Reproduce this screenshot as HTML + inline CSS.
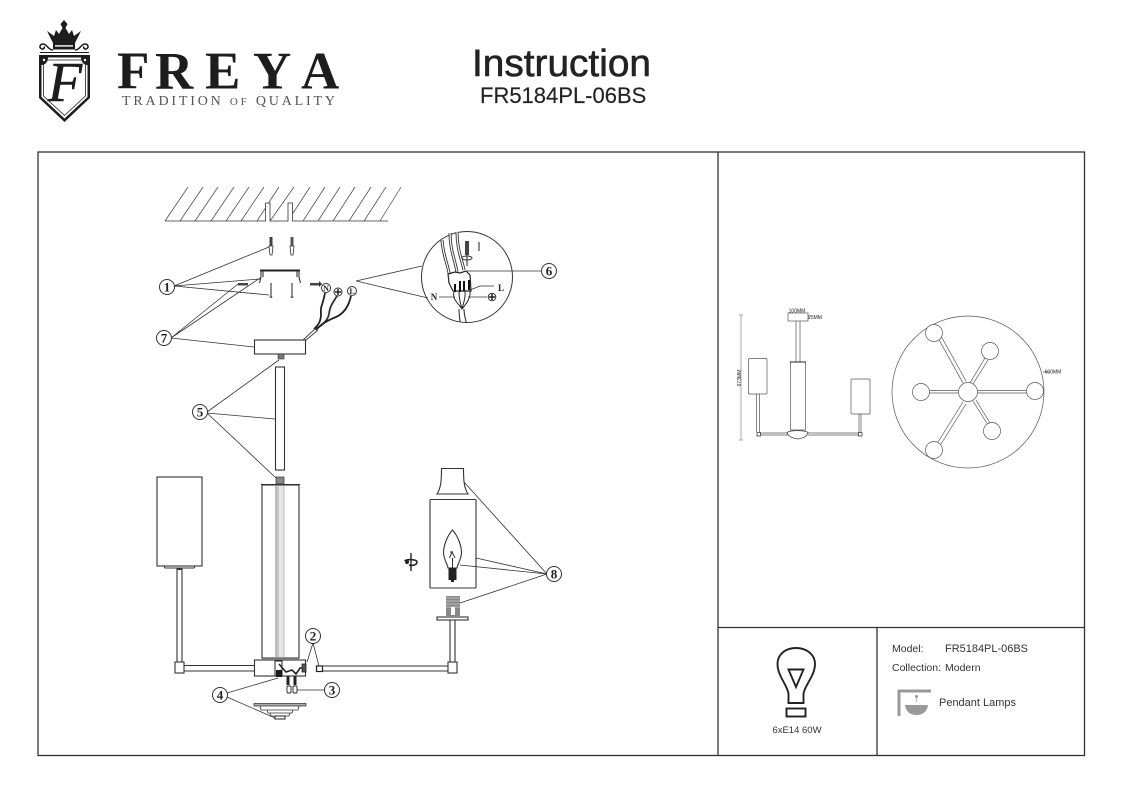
<!DOCTYPE html>
<html><head><meta charset="utf-8"><style>
html,body{margin:0;padding:0;background:#fff;width:1123px;height:794px;overflow:hidden}
svg{display:block}
text{font-family:"Liberation Sans",sans-serif;fill:#222}
.s{font-family:"Liberation Serif",serif;font-weight:bold;fill:#222}
.l{fill:none;stroke:#333;stroke-width:.8}
.m{fill:none;stroke:#333;stroke-width:1.1}
.w{fill:#fff;stroke:#333;stroke-width:1.1}
.c{fill:#fff;stroke:#333;stroke-width:1}
.t{fill:none;stroke:#666;stroke-width:.6}
.n{font-family:"Liberation Serif",serif;font-weight:bold;font-size:13px;text-anchor:middle;fill:#222}
</style></head><body>
<svg width="1123" height="794" viewBox="0 0 1123 794" xmlns="http://www.w3.org/2000/svg">
<rect width="1123" height="794" fill="#fff"/>
<!-- LOGO -->
<g>
<path d="M39 55H90V98L64.500 122L39 98Z" fill="#1d1d1d"/>
<path d="M41.500 57.500H87.500V97L64.500 118.500L41.500 97Z" fill="#fff"/>
<path d="M43.500 60H85.500V96L64.500 115.500L43.500 96Z" fill="none" stroke="#1d1d1d" stroke-width=".8"/>
<path d="M41.500 57.500H48C48 62 45 65 41.500 65ZM87.500 57.500H81C81 62 84 65 87.500 65Z" fill="#1d1d1d"/>
<circle cx="44" cy="60" r="1.200" fill="#fff"/><circle cx="85" cy="60" r="1.200" fill="#fff"/>
<text x="65" y="101" text-anchor="middle" style="font-family:'Liberation Serif',serif;font-style:italic;font-size:56px;fill:#1d1d1d;stroke:#1d1d1d;stroke-width:.6">F</text>
<path d="M64 20L67.500 24L65.500 28L69 34L72 30L74 36L81 31L75 43H53L47 31L54 36L56 30L59 34L62.500 28L60.500 24Z" fill="#1d1d1d"/>
<rect x="53" y="43" width="22" height="6.500" fill="#1d1d1d"/>
<rect x="55" y="45.200" width="18" height="1.400" fill="#fff"/>
<path d="M53 50C48 50 47 44 43 44C40 44 39 47 41 48.500C43 50 45 48 44 46.500M75 50C80 50 81 44 85 44C88 44 89 47 87 48.500C85 50 83 48 84 46.500" fill="none" stroke="#1d1d1d" stroke-width="1.500"/>
<path d="M40 52.500H89" stroke="#1d1d1d" stroke-width="1"/>
<text class="s" y="88.500" style="font-size:53px;fill:#1d1d1d"><tspan x="117">F</tspan><tspan x="155">R</tspan><tspan x="205">E</tspan><tspan x="253">Y</tspan><tspan x="301">A</tspan></text>
<text x="122" y="105" textLength="213" lengthAdjust="spacing" style="font-family:'Liberation Serif',serif;font-size:14px;fill:#555">TRADITION <tspan style="font-size:11px">OF</tspan> QUALITY</text>
</g>
<!-- TITLE -->
<text x="472" y="76" textLength="179" lengthAdjust="spacingAndGlyphs" style="font-size:38px;fill:#222;stroke:#222;stroke-width:.6">Instruction</text>
<text x="480" y="103" style="font-size:22px;fill:#222;stroke:#222;stroke-width:.15">FR5184PL-06BS</text>
<!-- FRAME -->
<g fill="none" stroke="#333" stroke-width="1.300">
<rect x="38" y="152" width="1046.500" height="603.500"/>
<path d="M718 152V755.500M718 627.500H1084.500M877 627.500V755.500"/>
</g>
<!-- CEILING -->
<path class="l" d="M165 221H265.500V203H270V221H288V203H292.500V221H388"/>
<path class="t" style="stroke:#444;stroke-width:.7" d="M165 221L188 187M180 221L203 187M195 221L218 187M211 221L234 187M226 221L249 187M241 221L264 187M257 221L265.500 208M268.500 203L279 187M270 221L294 187M292.500 214L310 187M303 221L325 187M318 221L340 187M333 221L355 187M349 221L371 187M364 221L386 187M380 221L401 187"/>
<!-- ANCHORS -->
<g>
<rect x="269.500" y="237" width="3" height="9" fill="#444"/><path class="l" d="M269 246H273L272 255H270Z"/>
<rect x="290.500" y="237" width="3" height="9" fill="#555"/><path class="l" d="M290 246H294L293 255H291Z"/>
<path class="m" d="M271 283V298M292 283V298"/><path class="l" d="M269.500 297H272.500M290.500 297H293.500"/>
<path d="M260 269.500H300V271.500H260Z" fill="#222"/>
<path class="m" d="M261 271V277L259.500 283M299 271V277L300.500 283M263 271V277M297 271V277"/>
<rect x="238" y="283" width="10" height="2.500" fill="#444"/>
<rect x="310" y="283" width="9" height="2.500" fill="#444"/><path d="M319 281L322 284L319 287Z" fill="#333"/>
</g>
<!-- CIRCLES N G L -->
<circle class="c" cx="326" cy="288" r="4.500"/><text x="326" y="291" class="n" style="font-size:8px">N</text>
<circle class="c" cx="338" cy="292" r="4"/><path d="M335 292H341M338 289V295" stroke="#222" stroke-width="1.500"/>
<circle class="c" cx="352" cy="291" r="4.500"/><text x="352" y="294" class="n" style="font-size:8px">L</text>
<!-- WIRES -->
<path d="M325 293C323 305 320 306 321 314C321 322 318 325 314 329" fill="none" stroke="#222" stroke-width="1.800"/>
<path d="M337 296C332 304 330 306 329 314C328 320 322 326 315 329" fill="none" stroke="#333" stroke-width="1.800"/>
<path d="M351 296C349 305 345 313 336 317C326 321 320 325 316 330" fill="none" stroke="#222" stroke-width="1.800"/>
<path d="M316 328L302 341M318 330L305 341" stroke="#444" stroke-width="1"/>
<!-- CANOPY -->
<rect class="w" x="254.500" y="340" width="51" height="14"/>
<rect x="278" y="354" width="6" height="5" fill="#777" stroke="#333" stroke-width=".6"/>
<!-- MAGNIFIER -->
<circle class="c" cx="467" cy="277" r="45.500"/>
<path class="l" d="M356 281L422 266M356 281L428 298"/>
<g fill="none"><path d="M442 240C443 255 447 262 449 273M450 233C450 250 455 260 457 272M457 232C457 250 462 260 464 270" stroke="#333" stroke-width="3"/>
<path d="M442 240C443 255 447 262 449 273M450 233C450 250 455 260 457 272M457 232C457 250 462 260 464 270" stroke="#fff" stroke-width="1.200"/></g>
<rect x="465" y="241" width="4" height="14" fill="#444"/>
<ellipse cx="467" cy="258" rx="5" ry="2" fill="none" stroke="#333"/><path class="m" d="M467 255V266M479 242V251"/>
<path d="M448 274L455 272L460 273L466 271L470 275L471 291H453L449 283Z" fill="#fff" stroke="#222" stroke-width="1.200"/>
<path d="M455 284V292M460 281V292M464 281V291M469 280V290" stroke="#111" stroke-width="2"/>
<path d="M454 292C452 299 458 303 462 309C466 304 471 298 470 291M459 292C459 300 461 305 462 309M465 291C466 298 463 304 462 309" fill="none" stroke="#222" stroke-width="1"/>
<path class="m" d="M459 309C459 315 460 320 460 322M464 309C464 315 466 320 466 322"/>
<path class="l" d="M466 271H475"/>
<path class="l" d="M475 271H541M470 290L480 286H494M439 297H455M468 297H487"/>
<text x="501" y="291" class="n" style="font-size:9px">L</text>
<text x="434" y="300" class="n" style="font-size:9px">N</text>
<circle class="c" cx="492" cy="297" r="3.800"/><path d="M489 297H495M492 294V300" stroke="#222" stroke-width="1.500"/>
<!-- ROD -->
<rect class="w" x="275.500" y="367" width="9" height="103"/>
<!-- CYLINDER -->
<rect x="276" y="477" width="8" height="7" fill="#888" stroke="#333" stroke-width=".7"/>
<rect class="w" x="262" y="485" width="37" height="173"/>
<path class="m" d="M261 484.500H300"/>
<rect x="276" y="486" width="8" height="171" fill="#e6e6e6"/>
<path d="M276 486V657" stroke="#aaa" stroke-width="1.500"/><path d="M284 486V657" stroke="#bbb" stroke-width="1"/>
<path d="M278 486V657" stroke="#999" stroke-width=".8"/>
<!-- LEFT SHADE -->
<rect class="w" x="157" y="477" width="45" height="89"/>
<path class="m" d="M164 566.500L165 568H194L195 566.500"/>
<path class="m" d="M177 568V662M182 568V662"/>
<rect x="177" y="568" width="5" height="2" fill="#333"/>
<rect class="w" x="175" y="662" width="9" height="11"/>
<path class="m" d="M184 665.500H254M184 671H254"/>
<!-- HUB -->
<rect class="w" x="254.500" y="660" width="51" height="16"/>
<rect x="262" y="658" width="37" height="2" fill="#777"/>
<rect x="275" y="661" width="7" height="15" fill="#fff" stroke="#222" stroke-width="1"/>
<rect x="276" y="670" width="6" height="7" fill="#1c1c1c"/>
<path d="M279 664L286 672L292 670L296 674L300 668H304V664" fill="none" stroke="#222" stroke-width="1.600"/>
<rect x="302" y="664" width="4" height="8" fill="#555" stroke="#222" stroke-width=".8"/>
<path d="M288 676V685M295 676V685" stroke="#222" stroke-width="3"/>
<rect x="287" y="686" width="4" height="7" rx="1" fill="#fff" stroke="#222" stroke-width=".9"/>
<rect x="293" y="686" width="4" height="7" rx="1" fill="#fff" stroke="#222" stroke-width=".9"/>
<!-- BOTTOM CAP -->
<path d="M254 703.500H306V706H254Z" fill="#aaa" stroke="#333" stroke-width=".7"/>
<path class="l" d="M260 706L261 710H298L299 706M267 710L268 713H292L293 710M270 713L271 716H289L290 713"/>
<rect class="w" x="275" y="716" width="10" height="3"/>
<!-- RIGHT ARM -->
<rect x="316.500" y="666" width="6" height="5.500" fill="#fff" stroke="#222" stroke-width="1.200"/>
<path class="m" d="M323 666H448M323 671H448"/>
<rect class="w" x="448" y="662" width="9" height="11"/>
<path class="m" d="M450 620V662M455 620V662"/>
<rect class="w" x="437" y="617" width="31" height="3"/>
<rect x="446" y="596" width="14" height="21" fill="#888"/>
<path d="M446 598H460M446 601H460M446 604H460M446 607H460" stroke="#ccc" stroke-width=".8"/>
<rect x="451" y="607" width="4" height="8" fill="#fff"/>
<!-- RIGHT SHADE -->
<rect class="w" x="430" y="499.500" width="46" height="88.500" rx="1"/>
<path class="w" d="M441.500 468.500H463.500C463.500 480 464 488 468 494H437C441 488 441.500 480 441.500 468.500Z"/>
<path class="m" d="M452.500 530C447 536 443.500 546 443.500 553C444 560 447 563 448 568H457C458 563 461 560 461.500 553C461.500 546 458 536 452.500 530Z"/>
<path d="M450 552L453 552M449.500 558L452 552L455 558M452.500 558V568" fill="none" stroke="#333" stroke-width="1"/>
<rect x="448.500" y="568" width="8" height="12" fill="#222"/>
<path d="M451 580H454V582H451Z" fill="#222"/>
<!-- ROTATE ICON -->
<path d="M411 553V571" stroke="#333" stroke-width="1.500"/>
<path d="M405 561C405 559 417 559 417 562C417 565 412 566 409 565" fill="none" stroke="#222" stroke-width="1.600"/>
<circle cx="407" cy="562" r="2" fill="#222"/>
<!-- LEADERS -->
<path class="l" d="M174 286L269 247M174 286L260 279M174 286L269 295M171 338L238 284M171 338L260 278M171 338L254 347"/>
<path class="l" d="M207 412L279 360M207 413L275 419M207 413L276 478"/>
<path class="l" d="M313 643L307 662M313 643L319 666M297 690H325M227 693L278 678M227 697L275 718"/>
<path class="l" d="M547 574L464 482M547 574L476 558M547 574L460 565M547 574L460 603"/>
<!-- NUMBERS -->
<g>
<circle class="c" cx="167" cy="287" r="7.500"/><text x="167" y="291.500" class="n">1</text>
<circle class="c" cx="164" cy="338" r="7.500"/><text x="164" y="342.500" class="n">7</text>
<circle class="c" cx="200" cy="412" r="7.500"/><text x="200" y="416.500" class="n">5</text>
<circle class="c" cx="549" cy="271" r="7.500"/><text x="549" y="275.500" class="n">6</text>
<circle class="c" cx="313" cy="636" r="7.500"/><text x="313" y="640.500" class="n">2</text>
<circle class="c" cx="332" cy="690" r="7.500"/><text x="332" y="694.500" class="n">3</text>
<circle class="c" cx="220" cy="695" r="7.500"/><text x="220" y="699.500" class="n">4</text>
<circle class="c" cx="554" cy="574" r="7.500"/><text x="554" y="578.500" class="n">8</text>
</g>
<!-- ELEVATION -->
<g fill="none" stroke="#555" stroke-width=".7">
<rect x="788" y="313" width="20" height="8"/>
<path d="M796 321V362M800 321V362"/>
<rect x="790.500" y="362" width="15" height="68"/>
<path d="M790 362H806" stroke="#222" stroke-width="1"/>
<rect x="748.500" y="358.500" width="18.500" height="35.500" rx="1"/>
<path d="M756.500 394V432M759.500 394V432"/>
<rect x="757" y="432.500" width="3.500" height="3.500" stroke="#222"/>
<path d="M760 433H788M760 435H788M808 433H858M808 435H858"/>
<path d="M787 432.500C790 430 805 430 808 432.500C807 437 803 438 798 439C792 438 789 437 787 432.500Z" stroke="#333"/>
<rect x="858.500" y="432.500" width="3.500" height="3.500" stroke="#222"/>
<path d="M859 414V432M861 414V432"/>
<rect x="851" y="379" width="19" height="35" rx="1"/>
<path d="M741 315V440M739 315H743M739 440H743" stroke="#888"/>
<path d="M808 317H810M1043 372H1050" stroke="#666"/>
</g>
<text x="797" y="312.500" text-anchor="middle" style="font-size:5px">100MM</text>
<text x="815" y="319" text-anchor="middle" style="font-size:5px">25MM</text>
<text transform="translate(741,378) rotate(-90)" text-anchor="middle" style="font-size:5px">673MM</text>
<text x="1053" y="373.500" text-anchor="middle" style="font-size:5px">600MM</text>
<!-- PLAN -->
<g fill="none" stroke="#555" stroke-width=".7">
<circle cx="968" cy="392" r="76"/>
<path d="M938 338L963 383M941 336L966 381M985 358L970 383M988 360L973 384M929 390.500H958M929 393H958M978 390.500H1027M978 393H1027M988 425L973 401M990 423L976 400M938 442L963 402M941 444L966 404"/>
<g fill="#fff"><circle cx="968" cy="392" r="9.500"/><circle cx="934" cy="333" r="8.500"/><circle cx="990" cy="351" r="8.500"/><circle cx="921" cy="392" r="8.500"/><circle cx="1035" cy="391" r="8.500"/><circle cx="992" cy="431" r="8.500"/><circle cx="934" cy="450" r="8.500"/></g>
</g>
<!-- BULB -->
<path d="M788.500 703V694C788 686 777.500 676 777.500 664C777.500 654 786 648 796 648C806 648 815 654 815 664C815 676 804 686 803.500 694V703Z" fill="none" stroke="#222" stroke-width="1.900"/>
<path d="M788.500 669.500H803.500L796 687Z" fill="none" stroke="#222" stroke-width="1.900"/>
<rect x="786.500" y="708.500" width="19" height="8" fill="none" stroke="#222" stroke-width="1.900"/>
<text x="797" y="733" text-anchor="middle" style="font-size:9.500px;fill:#333">6xE14 60W</text>
<!-- INFO -->
<text x="892" y="652" style="font-size:10.500px;fill:#333">Model:</text>
<text x="945" y="652" textLength="83" lengthAdjust="spacingAndGlyphs" style="font-size:11px;fill:#333">FR5184PL-06BS</text>
<text x="892" y="671" style="font-size:10.500px;fill:#333">Collection:</text>
<text x="945" y="671" style="font-size:10.500px;fill:#333">Modern</text>
<text x="939" y="706" textLength="77" lengthAdjust="spacingAndGlyphs" style="font-size:11px;fill:#333">Pendant Lamps</text>
<path d="M899 716V691H931" fill="none" stroke="#999" stroke-width="3"/>
<path d="M905 705H928C927 713 921 715 916.500 715C912 715 906 713 905 705Z" fill="#999"/>
<circle cx="916.500" cy="696.500" r="1.500" fill="#999"/><path d="M916.500 698V702" stroke="#bbb"/>
</svg>
</body></html>
